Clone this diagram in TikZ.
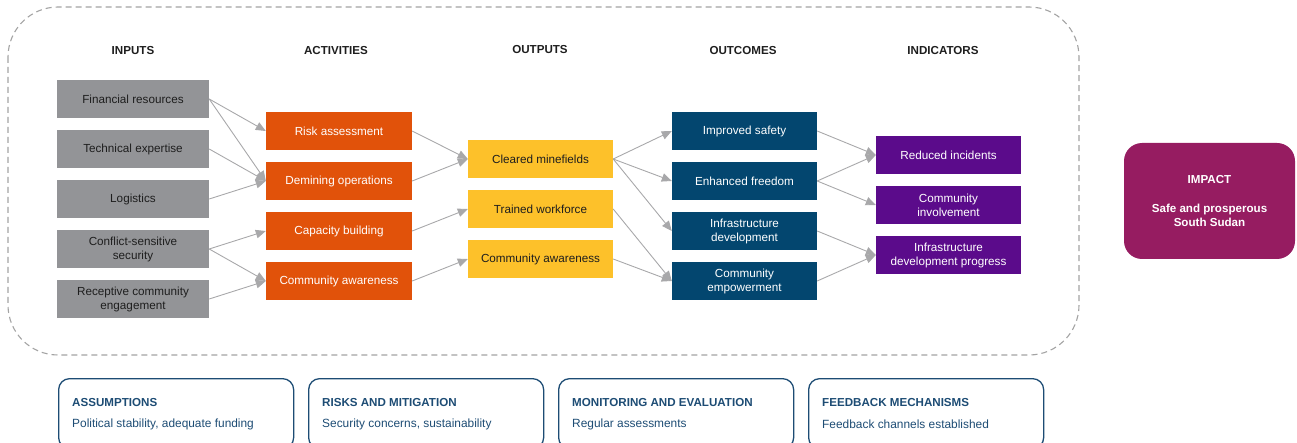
\documentclass[tikz,border=0pt]{standalone}
\usepackage{fontspec}
\setmainfont{Liberation Sans}
\usetikzlibrary{arrows.meta}

\definecolor{cgray}{HTML}{939497}
\definecolor{corange}{HTML}{E1520A}
\definecolor{cyellow}{HTML}{FDC12A}
\definecolor{cnavy}{HTML}{03466F}
\definecolor{cpurple}{HTML}{5B0B8B}
\definecolor{cimpact}{HTML}{961C61}
\definecolor{cline}{HTML}{A8A8AA}
\definecolor{cdash}{HTML}{A3A3A3}
\definecolor{cnote}{HTML}{1D4C74}
\definecolor{ctext}{HTML}{1E1E1E}

\begin{document}
\begin{tikzpicture}[x=1pt,y=-1pt,
  box/.style={rectangle, minimum height=37.5pt, inner sep=2pt, align=center,
              font=\fontsize{11.7}{14}\selectfont},
  inbox/.style={box, fill=cgray, text=ctext, minimum width=152pt},
  actbox/.style={box, fill=corange, text=white, minimum width=146pt},
  outbox/.style={box, fill=cyellow, text=ctext, minimum width=145pt},
  ocbox/.style={box, fill=cnavy, text=white, minimum width=145pt},
  indbox/.style={box, fill=cpurple, text=white, minimum width=145pt},
  head/.style={font=\fontsize{11.6}{13}\selectfont\bfseries, text=ctext},
  flow/.style={draw=cline, line width=0.9pt, -{Triangle[length=10pt,width=8.5pt]}},
  notebox/.style={draw=cnote, line width=1.3pt, rounded corners=11pt,
                  minimum width=235pt, minimum height=70pt, inner sep=0pt},
  notetitle/.style={anchor=west, inner sep=0pt, text=cnote,
                    font=\fontsize{11.6}{13}\selectfont\bfseries},
  notetext/.style={anchor=west, inner sep=0pt, text=cnote,
                   font=\fontsize{11.9}{13}\selectfont}
]
\useasboundingbox (0,0) rectangle (1297,443);
\clip (0,0) rectangle (1297,443);

% dashed frame around the causal chain
\draw[cdash, line width=1.1pt, dash pattern=on 6pt off 4pt, rounded corners=50pt]
  (8,7) rectangle (1079,355);

% column headings
\node[head] (hin)  at (133,51) {INPUTS};
\node[head] (hact) at (336,51) {ACTIVITIES};
\node[head] (hout) at (540,50) {OUTPUTS};
\node[head] (hoc)  at (743,51) {OUTCOMES};
\node[head] (hind) at (943,51) {INDICATORS};

% inputs
\node[inbox] (i1) at (133,99)  {Financial resources};
\node[inbox] (i2) at (133,149) {Technical expertise};
\node[inbox] (i3) at (133,199) {Logistics};
\node[inbox] (i4) at (133,249) {Conflict-sensitive\\security};
\node[inbox] (i5) at (133,299) {Receptive community\\engagement};

% activities
\node[actbox] (a1) at (339,131) {Risk assessment};
\node[actbox] (a2) at (339,181) {Demining operations};
\node[actbox] (a3) at (339,231) {Capacity building};
\node[actbox] (a4) at (339,281) {Community awareness};

% outputs
\node[outbox] (o1) at (540.5,159) {Cleared minefields};
\node[outbox] (o2) at (540.5,209) {Trained workforce};
\node[outbox] (o3) at (540.5,259) {Community awareness};

% outcomes
\node[ocbox] (c1) at (744.5,131) {Improved safety};
\node[ocbox] (c2) at (744.5,181) {Enhanced freedom};
\node[ocbox] (c3) at (744.5,231) {Infrastructure\\development};
\node[ocbox] (c4) at (744.5,281) {Community\\empowerment};

% indicators
\node[indbox] (d1) at (948.5,155) {Reduced incidents};
\node[indbox] (d2) at (948.5,205) {Community\\involvement};
\node[indbox] (d3) at (948.5,255) {Infrastructure\\development progress};

% impact
\node[rectangle, rounded corners=18pt, fill=cimpact, text=white,
      minimum width=171pt, minimum height=116pt, align=center,
      font=\fontsize{11.6}{14}\selectfont\bfseries] (imp) at (1209.5,201)
  {IMPACT\\[15pt]Safe and prosperous\\South Sudan};

% links: inputs to activities
\draw[flow] (i1.east) -- (a1.west);
\draw[flow] (i1.east) -- (a2.west);
\draw[flow] (i2.east) -- (a2.west);
\draw[flow] (i3.east) -- (a2.west);
\draw[flow] (i4.east) -- (a3.west);
\draw[flow] (i4.east) -- (a4.west);
\draw[flow] (i5.east) -- (a4.west);

% links: activities to outputs
\draw[flow] (a1.east) -- (o1.west);
\draw[flow] (a2.east) -- (o1.west);
\draw[flow] (a3.east) -- (o2.west);
\draw[flow] (a4.east) -- (o3.west);

% links: outputs to outcomes
\draw[flow] (o1.east) -- (c1.west);
\draw[flow] (o1.east) -- (c2.west);
\draw[flow] (o1.east) -- (c3.west);
\draw[flow] (o2.east) -- (c4.west);
\draw[flow] (o3.east) -- (c4.west);

% links: outcomes to indicators
\draw[flow] (c1.east) -- (d1.west);
\draw[flow] (c2.east) -- (d1.west);
\draw[flow] (c2.east) -- (d2.west);
\draw[flow] (c3.east) -- (d3.west);
\draw[flow] (c4.east) -- (d3.west);

% supporting notes along the bottom
\node[notebox, anchor=north west] (n1) at (58,378)  {};
\node[notebox, anchor=north west] (n2) at (308,378) {};
\node[notebox, anchor=north west] (n3) at (558,378) {};
\node[notebox, anchor=north west] (n4) at (808,378) {};

\node[notetitle] (n1t) at (72,403)  {ASSUMPTIONS};
\node[notetext]  (n1s) at (72,424)  {Political stability, adequate funding};
\node[notetitle] (n2t) at (322,403) {RISKS AND MITIGATION};
\node[notetext]  (n2s) at (322,424) {Security concerns, sustainability};
\node[notetitle] (n3t) at (572,403) {MONITORING AND EVALUATION};
\node[notetext]  (n3s) at (572,424) {Regular assessments};
\node[notetitle] (n4t) at (822,403) {FEEDBACK MECHANISMS};
\node[notetext]  (n4s) at (822,424) {Feedback channels established};
\end{tikzpicture}
\end{document}
